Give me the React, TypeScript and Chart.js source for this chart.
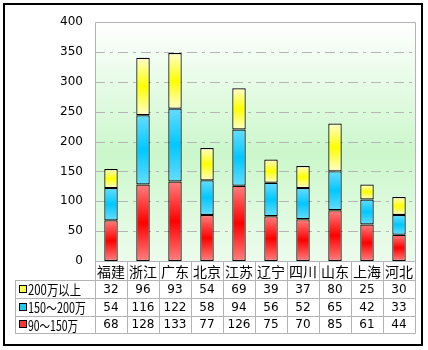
import React, { useEffect, useRef } from "react";
import { Chart, registerables } from "chart.js";

Chart.register(...registerables);

const categories = ["福建", "浙江", "广东", "北京", "江苏", "辽宁", "四川", "山东", "上海", "河北"];
const seriesNames = ["90～150万", "150～200万", "200万以上"];
const low = [68, 128, 133, 77, 126, 75, 70, 85, 61, 44];
const mid = [54, 116, 122, 58, 94, 56, 52, 65, 42, 33];
const high = [32, 96, 93, 54, 69, 39, 37, 80, 25, 30];
const yTicks = [0, 50, 100, 150, 200, 250, 300, 350, 400];

const seriesValues = [low, mid, high];
const edgeColors = ["#ff7f7f", "#66dcff", "#ffffcc"];
const centerColors = ["#ff0000", "#00c8ff", "#ffff00"];
const keyColors = ["#ff3333", "#22c8f0", "#ffff44"];
const nameWidths = [50, 58, 53];

const FONT_CJK = "'Noto Sans CJK SC', 'DejaVu Sans', sans-serif";
const FONT_NUM = "'DejaVu Sans', sans-serif";

export default function App() {
  const ref = useRef<HTMLCanvasElement | null>(null);

  useEffect(() => {
    const canvas = ref.current;
    if (!canvas) return;

    const makeBg = (di: number) => (ctx: any) => {
      const chart = ctx.chart;
      const y = chart.scales?.y;
      if (!chart.chartArea || !y || ctx.type !== "data") return centerColors[di];
      const i = ctx.dataIndex;
      let start = 0;
      for (let k = 0; k < di; k++) start += seriesValues[k][i];
      const v = seriesValues[di][i];
      const top = y.getPixelForValue(start + v);
      const bottom = y.getPixelForValue(start);
      if (!isFinite(top) || !isFinite(bottom) || top === bottom) return centerColors[di];
      const g = chart.ctx.createLinearGradient(0, top, 0, bottom);
      g.addColorStop(0, edgeColors[di]);
      g.addColorStop(0.5, centerColors[di]);
      g.addColorStop(1, edgeColors[di]);
      return g;
    };

    const tablePlugin = {
      id: "tablePlugin",
      beforeDatasetsDraw(chart: any) {
        const { ctx, chartArea } = chart;
        const { left, right, top, bottom } = chartArea;
        const y = chart.scales.y;
        ctx.save();
        const g = ctx.createLinearGradient(0, top, 0, bottom);
        g.addColorStop(0, "#ffffff");
        g.addColorStop(0.55, "#cbf7cb");
        g.addColorStop(1, "#edfced");
        ctx.fillStyle = g;
        ctx.fillRect(left, top, right - left, bottom - top);
        ctx.strokeStyle = "#b4b4b4";
        ctx.lineWidth = 1;
        ctx.setLineDash([10, 5, 3, 5]);
        yTicks.forEach((t) => {
          if (t === 0 || t === 400) return;
          const py = Math.round(y.getPixelForValue(t)) + 0.5;
          ctx.beginPath();
          ctx.moveTo(left, py);
          ctx.lineTo(right, py);
          ctx.stroke();
        });
        ctx.setLineDash([]);
        ctx.beginPath();
        ctx.moveTo(Math.round(left) + 0.5, bottom);
        ctx.lineTo(Math.round(left) + 0.5, Math.round(top) + 0.5);
        ctx.lineTo(Math.round(right) + 0.5, Math.round(top) + 0.5);
        ctx.lineTo(Math.round(right) + 0.5, bottom);
        ctx.stroke();
        ctx.restore();
      },
      afterDraw(chart: any) {
        const { ctx, chartArea } = chart;
        const { left, right, bottom } = chartArea;
        const x = chart.scales.x;
        const n = categories.length;
        const colW = (right - left) / n;
        const tableLeft = 15;
        const rowTop = [bottom, 280, 298, 315.5, 333];
        ctx.save();
        ctx.strokeStyle = "#b4b4b4";
        ctx.lineWidth = 1;
        ctx.beginPath();
        ctx.moveTo(left, Math.round(rowTop[0]) + 0.5);
        ctx.lineTo(right, Math.round(rowTop[0]) + 0.5);
        for (let r = 1; r < rowTop.length; r++) {
          const py = Math.round(rowTop[r]) + 0.5;
          ctx.moveTo(tableLeft, py);
          ctx.lineTo(right + 0.5, py);
        }
        for (let c = 0; c <= n; c++) {
          const px = Math.round(left + c * colW) + 0.5;
          ctx.moveTo(px, rowTop[0]);
          ctx.lineTo(px, Math.round(rowTop[4]) + 0.5);
        }
        ctx.moveTo(tableLeft + 0.5, Math.round(rowTop[1]) + 0.5);
        ctx.lineTo(tableLeft + 0.5, Math.round(rowTop[4]) + 0.5);
        ctx.stroke();

        const order = [2, 1, 0];
        order.forEach((si, r) => {
          const yTop = rowTop[r + 1];
          const yBot = rowTop[r + 2];
          const cy = (yTop + yBot) / 2;
          ctx.fillStyle = keyColors[si];
          ctx.fillRect(19, Math.round(cy) - 4, 8, 8);
          ctx.strokeStyle = "#000000";
          ctx.lineWidth = 1;
          ctx.strokeRect(19.5, Math.round(cy) - 3.5, 7, 7);
          ctx.fillStyle = "#000000";
          ctx.font = `14px ${FONT_CJK}`;
          ctx.textAlign = "left";
          ctx.textBaseline = "middle";
          const w = ctx.measureText(seriesNames[si]).width;
          const sx = Math.min(1, nameWidths[si] / w);
          ctx.save();
          ctx.translate(28, cy + 1);
          ctx.scale(sx, 1);
          ctx.fillText(seriesNames[si], 0, 0);
          ctx.restore();
          ctx.font = `12px ${FONT_NUM}`;
          ctx.textAlign = "center";
          seriesValues[si].forEach((v, i) => {
            ctx.fillText(String(v), x.getPixelForValue(i), cy + 1);
          });
        });

        ctx.strokeStyle = "#000000";
        ctx.lineWidth = 2;
        ctx.strokeRect(4, 4, 418, 341);
        ctx.restore();
      },
    };

    const chart = new Chart(canvas, {
      type: "bar",
      data: {
        labels: categories,
        datasets: seriesValues.map((vals, di) => ({
          label: seriesNames[di],
          data: vals,
          backgroundColor: makeBg(di),
          borderColor: "#000000",
          borderWidth: 1.2,
          borderSkipped: false,
          inflateAmount: 0,
          barPercentage: 0.42,
          categoryPercentage: 1,
        })),
      },
      options: {
        responsive: false,
        animation: false,
        layout: { padding: { left: 0, top: 22, right: 13, bottom: 0 } },
        plugins: { legend: { display: false }, tooltip: { enabled: false } },
        scales: {
          x: {
            stacked: true,
            grid: { display: false, drawTicks: false },
            border: { display: false },
            ticks: {
              color: "#000000",
              font: { family: FONT_CJK, size: 14 },
              padding: 2,
              maxRotation: 0,
              autoSkip: false,
            },
            afterFit: (s: any) => {
              s.height = 89;
            },
          },
          y: {
            stacked: true,
            min: 0,
            max: 400,
            grid: { display: false, drawTicks: false },
            border: { display: false },
            ticks: {
              stepSize: 50,
              color: "#000000",
              font: { family: FONT_NUM, size: 12 },
              padding: 12,
            },
            afterFit: (s: any) => {
              s.width = 95;
            },
          },
        },
      },
      plugins: [tablePlugin],
    });

    return () => chart.destroy();
  }, []);

  return (
    <div style={{ position: "fixed", left: 0, top: 0, width: 428, height: 350, background: "#ffffff" }}>
      <canvas ref={ref} width={428} height={350} />
    </div>
  );
}
